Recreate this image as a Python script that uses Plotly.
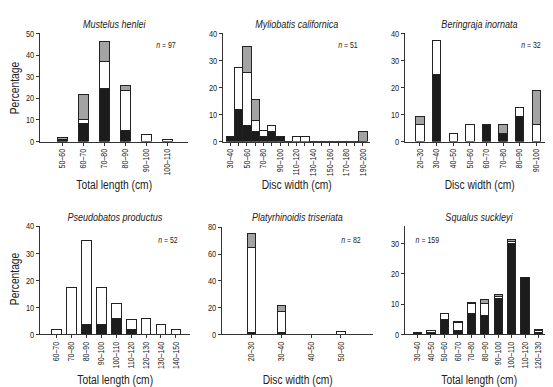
import plotly.graph_objects as go

W, H = 553, 387

# ---------------- DATA ----------------
mh_cats = ["50–60", "60–70", "70–80", "80–90", "90–100", "100–110"]
mh_black = [1.0, 8.2, 24.7, 5.2, 0, 0]
mh_white = [0, 2.1, 12.4, 18.6, 3.1, 1.0]
mh_gray = [1.0, 11.3, 9.3, 2.1, 0, 0]

mc_cats = ["30–40", "40–50", "50–60", "60–70", "70–80", "80–90", "90–100", "100–110",
           "110–120", "120–130", "130–140", "140–150", "150–160", "160–170",
           "170–180", "180–190", "190–200"]
mc_black = [2.0, 11.8, 5.9, 3.9, 2.0, 3.9, 2.0, 0, 0, 0, 0, 0, 0, 0, 0, 0, 0]
mc_white = [0, 15.7, 19.6, 3.9, 2.0, 2.0, 0, 0, 2.0, 2.0, 0, 0, 0, 0, 0, 0, 0]
mc_gray = [0, 0, 9.8, 7.8, 0, 0, 0, 0, 0, 0, 0, 0, 0, 0, 0, 0, 3.9]

bi_cats = ["20–30", "30–40", "40–50", "50–60", "60–70", "70–80", "80–90", "90–100"]
bi_black = [0, 25.0, 0, 0, 6.25, 3.1, 9.4, 0]
bi_white = [6.25, 12.5, 3.1, 6.25, 0, 0, 3.1, 6.25]
bi_gray = [3.1, 0, 0, 0, 0, 3.1, 0, 12.5]

pp_cats = ["60–70", "70–80", "80–90", "90–100", "100–110", "110–120", "120–130", "130–140", "140–150"]
pp_black = [0, 0, 3.8, 3.8, 5.8, 1.9, 0, 0, 0]
pp_white = [1.9, 17.3, 30.8, 13.5, 5.8, 3.8, 5.8, 3.8, 1.9]
pp_gray = [0, 0, 0, 0, 0, 0, 0, 0, 0]

pt_cats = ["20–30", "30–40", "40–50", "50–60"]
pt_black = [1.2, 1.2, 0, 0]
pt_white = [63.4, 15.9, 0, 2.4]
pt_gray = [11.0, 4.9, 0, 0]

ss_cats = ["30–40", "40–50", "50–60", "60–70", "70–80", "80–90", "90–100", "100–110", "110–120", "120–130"]
ss_black = [0.6, 0.6, 5.0, 1.3, 6.9, 6.3, 12.0, 30.2, 18.9, 0.6]
ss_white = [0, 0.6, 1.9, 2.5, 3.2, 3.8, 0.6, 0.6, 0, 0.6]
ss_gray = [0, 0, 0, 0.6, 0.6, 1.3, 0.6, 0.6, 0, 0.6]

titles = ["Mustelus henlei", "Myliobatis californica", "Beringraja inornata",
          "Pseudobatos productus", "Platyrhinoidis triseriata", "Squalus suckleyi"]
n_labels = ["97", "51", "32", "52", "82", "159"]
x_titles = ["Total length (cm)", "Disc width (cm)", "Disc width (cm)",
            "Total length (cm)", "Disc width (cm)", "Total length (cm)"]

# ---------------- LAYOUT (pixels) ----------------
panels = [
    dict(cats=mh_cats, b=mh_black, w=mh_white, g=mh_gray, box=(32, 180, 21, 132),
         yr=[0, 50], dt=10, xr=[-1.05, 5.99], bw=0.48, every=1),
    dict(cats=mc_cats, b=mc_black, w=mc_white, g=mc_gray, box=(215, 362, 21, 132),
         yr=[0, 40], dt=10, xr=[-0.88, 16.85], bw=1.0, every=2),
    dict(cats=bi_cats, b=bi_black, w=bi_white, g=bi_gray, box=(397, 545, 21, 132),
         yr=[0, 40], dt=10, xr=[-0.9, 8.0], bw=0.5, every=1),
    dict(cats=pp_cats, b=pp_black, w=pp_white, g=pp_gray, box=(32, 182, 219, 330),
         yr=[0, 40], dt=10, xr=[-1.12, 8.95], bw=0.65, every=1),
    dict(cats=pt_cats, b=pt_black, w=pt_white, g=pt_gray, box=(214, 365, 220, 330),
         yr=[0, 80], dt=20, xr=[-1.0, 4.08], bw=0.28, every=1),
    dict(cats=ss_cats, b=ss_black, w=ss_white, g=ss_gray, box=(397, 545, 219, 330),
         yr=[0, 35.7], dt=10, xr=[-0.93, 10.07], bw=0.62, every=1),
]

FONT = "Liberation Sans, Arial, sans-serif"
TXT = "#222222"
AX = "#333333"

def px(x):
    return x / W

def py(y):
    return 1 - y / H

fig = go.Figure()
layout = dict(
    width=W, height=H, margin=dict(l=0, r=0, t=0, b=0),
    paper_bgcolor="white", plot_bgcolor="white",
    barmode="stack", showlegend=False,
    font=dict(family=FONT, color=TXT, size=8),
)
annotations = []

for i, p in enumerate(panels):
    k = "" if i == 0 else str(i + 1)
    xa, ya = "x" + k, "y" + k
    for vals, col in ((p["b"], "#1c1c1c"), (p["w"], "#ffffff"), (p["g"], "#a3a3a3")):
        fig.add_trace(go.Bar(
            x=p["cats"], y=vals, xaxis=xa, yaxis=ya, width=p["bw"],
            marker=dict(color=col, line=dict(color="#222222", width=1)),
            hoverinfo="skip"))
    x0, x1, y0, y1 = p["box"]
    ticktext = [c if j % p["every"] == 0 else "" for j, c in enumerate(p["cats"])]
    layout["xaxis" + k] = dict(
        domain=[px(x0), px(x1)], anchor=ya, type="category",
        categoryorder="array", categoryarray=p["cats"],
        range=p["xr"], showgrid=False, zeroline=False,
        showline=True, linecolor=AX, linewidth=1,
        ticks="outside", ticklen=3, tickcolor=AX, tickwidth=1,
        tickmode="array", tickvals=p["cats"], ticktext=ticktext,
        tickangle=-90, tickfont=dict(size=8.5, color=TXT, family=FONT),
        fixedrange=True)
    ymax = p["yr"][1]
    yt = list(range(0, int(ymax) + 1, p["dt"]))
    layout["yaxis" + k] = dict(
        domain=[py(y1), py(y0)], anchor=xa, range=p["yr"],
        showgrid=False, zeroline=False, showline=True, linecolor=AX, linewidth=1,
        ticks="outside", ticklen=3, tickcolor=AX, tickwidth=1,
        tickmode="array", tickvals=yt, ticktext=[str(v) for v in yt],
        tickfont=dict(size=9, color=TXT, family=FONT), fixedrange=True)

    cx = (x0 + x1) / 2
    ty = 11 if i < 3 else 209
    annotations.append(dict(
        x=px(cx), y=py(ty), xref="paper", yref="paper", showarrow=False,
        text="<i>" + titles[i] + "</i>", font=dict(size=11, color=TXT, family=FONT),
        xanchor="center", yanchor="middle"))
    xty = 177 if i < 3 else 377
    annotations.append(dict(
        x=px(cx), y=py(xty), xref="paper", yref="paper", showarrow=False,
        text=x_titles[i], font=dict(size=12.5, color=TXT, family=FONT),
        xanchor="center", yanchor="middle"))
    ny = 33 if i < 3 else 233
    if i == 5:
        annotations.append(dict(
            x=px(403), y=py(ny), xref="paper", yref="paper", showarrow=False,
            text="<i>n</i> = " + n_labels[i], font=dict(size=8.5, color=TXT, family=FONT),
            xanchor="left", yanchor="middle"))
    else:
        annotations.append(dict(
            x=px(x1 - 8), y=py(ny), xref="paper", yref="paper", showarrow=False,
            text="<i>n</i> = " + n_labels[i], font=dict(size=8.5, color=TXT, family=FONT),
            xanchor="right", yanchor="middle"))

for yc in (77, 273):
    annotations.append(dict(
        x=px(7), y=py(yc), xref="paper", yref="paper", showarrow=False,
        text="Percentage", textangle=-90, font=dict(size=12.5, color=TXT, family=FONT),
        xanchor="center", yanchor="middle"))

layout["annotations"] = annotations
fig.update_layout(**layout)

# condense the text horizontally (the reference uses a narrow typeface)
post = """
var gd = document.getElementById('{plot_id}');
function squeeze() {
  var ts = gd.querySelectorAll('svg text');
  ts.forEach(function (t) {
    if (t.getAttribute('data-sq')) return;
    var L = t.getComputedTextLength();
    if (L > 0) {
      t.setAttribute('textLength', (L * 0.82).toFixed(2));
      t.setAttribute('lengthAdjust', 'spacingAndGlyphs');
      t.setAttribute('data-sq', '1');
    }
  });
}
squeeze();
"""
fig.write_html("out.html", post_script=post)
